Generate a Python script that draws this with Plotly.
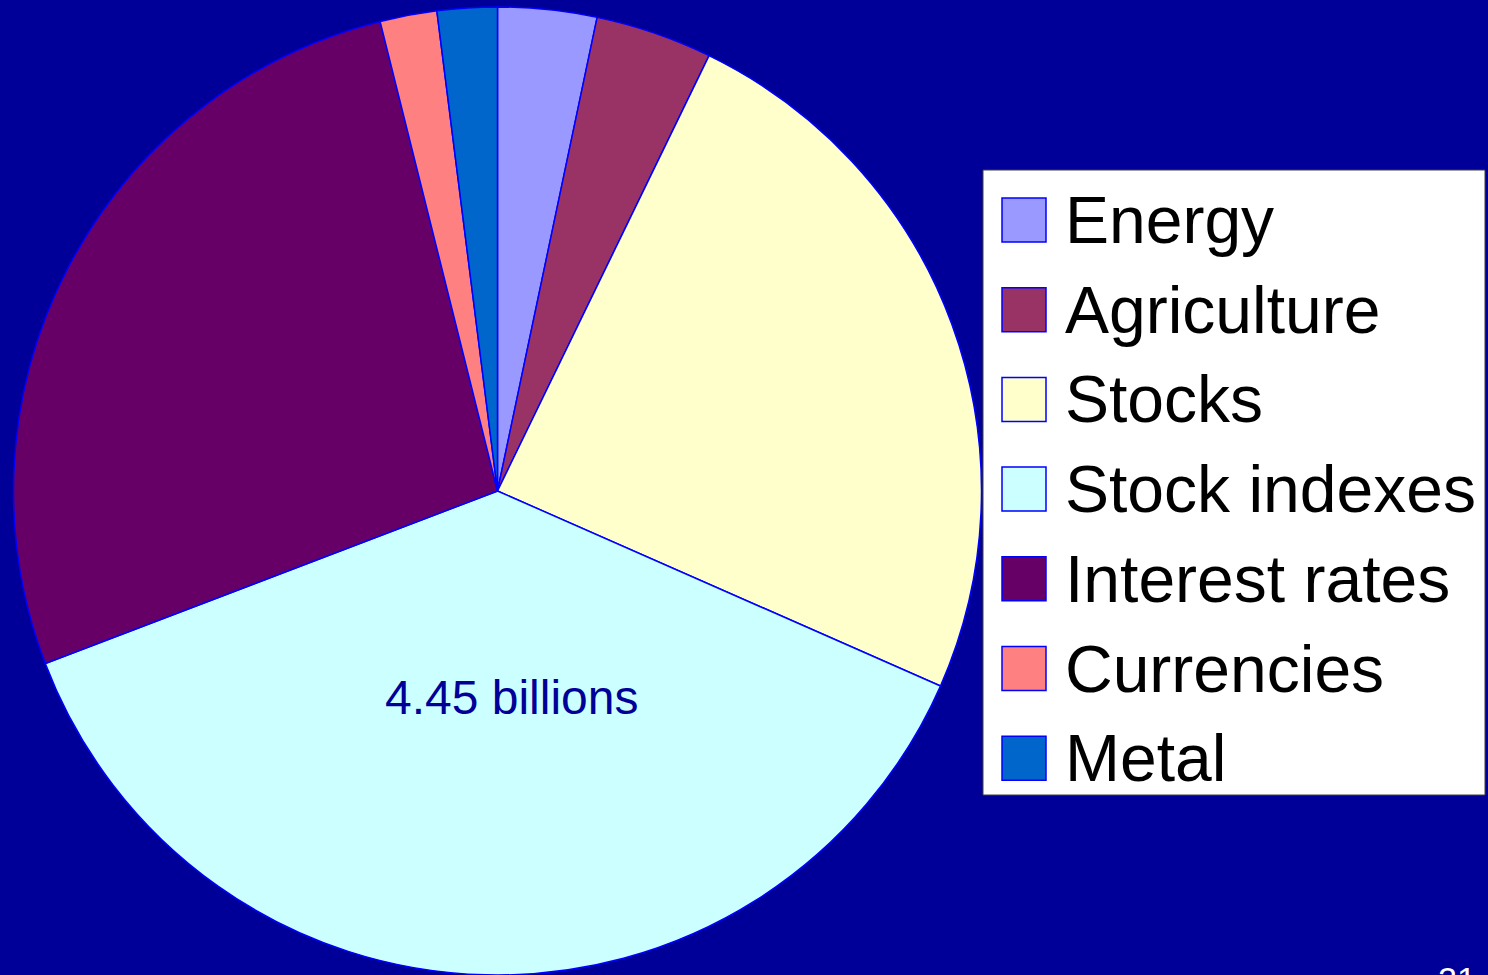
import plotly.graph_objects as go

labels = ["Energy", "Agriculture", "Stocks", "Stock indexes", "Interest rates", "Currencies", "Metal"]
values = [3.3, 3.9, 24.4, 37.6, 26.9, 1.9, 2.0]
colors = ["#9999FF", "#993366", "#FFFFCC", "#CCFFFF", "#660066", "#FF8080", "#0066CC"]
center_label = "4.45 billions"
page_number = "21"

W, H = 1488, 975
BG = "#000099"

def px(x):
    return x / W

def py(y):
    return (H - y) / H

fig = go.Figure()
fig.add_trace(go.Pie(
    labels=labels, values=values, sort=False, direction="clockwise", rotation=0,
    marker=dict(colors=colors, line=dict(color="#0000FF", width=1.5)),
    textinfo="none", hoverinfo="label+value", showlegend=False,
    domain=dict(x=[px(13.5), px(981.5)], y=[py(975), py(7)]),
))

shapes = []
annotations = []
# legend box
shapes.append(dict(type="rect", xref="paper", yref="paper",
                   x0=px(983), x1=px(1485), y0=py(795), y1=py(170),
                   fillcolor="white", line=dict(color="#404040", width=1)))
row0, step = 220, 89.7
for i, (lab, col) in enumerate(zip(labels, colors)):
    cy = row0 + i * step
    shapes.append(dict(type="rect", xref="paper", yref="paper",
                       x0=px(1002), x1=px(1046), y0=py(cy + 22), y1=py(cy - 22),
                       fillcolor=col, line=dict(color="#0000FF", width=1.5)))
    annotations.append(dict(text=lab, xref="paper", yref="paper",
                            x=px(1063), y=py(cy), xanchor="left", yanchor="middle",
                            showarrow=False,
                            font=dict(family="Liberation Sans, Arial", size=66, color="black")))

annotations.append(dict(text=center_label, xref="paper", yref="paper",
                        x=px(512), y=py(697), xanchor="center", yanchor="middle",
                        showarrow=False,
                        font=dict(family="Liberation Sans, Arial", size=48, color="#000099")))
annotations.append(dict(text=page_number, xref="paper", yref="paper",
                        x=px(1457), y=py(958), xanchor="center", yanchor="top",
                        showarrow=False,
                        font=dict(family="Liberation Sans, Arial", size=34, color="white")))

fig.update_layout(
    width=W, height=H, margin=dict(l=0, r=0, t=0, b=0),
    paper_bgcolor=BG, plot_bgcolor=BG,
    shapes=shapes, annotations=annotations, showlegend=False,
)
fig.write_html("out.html")
